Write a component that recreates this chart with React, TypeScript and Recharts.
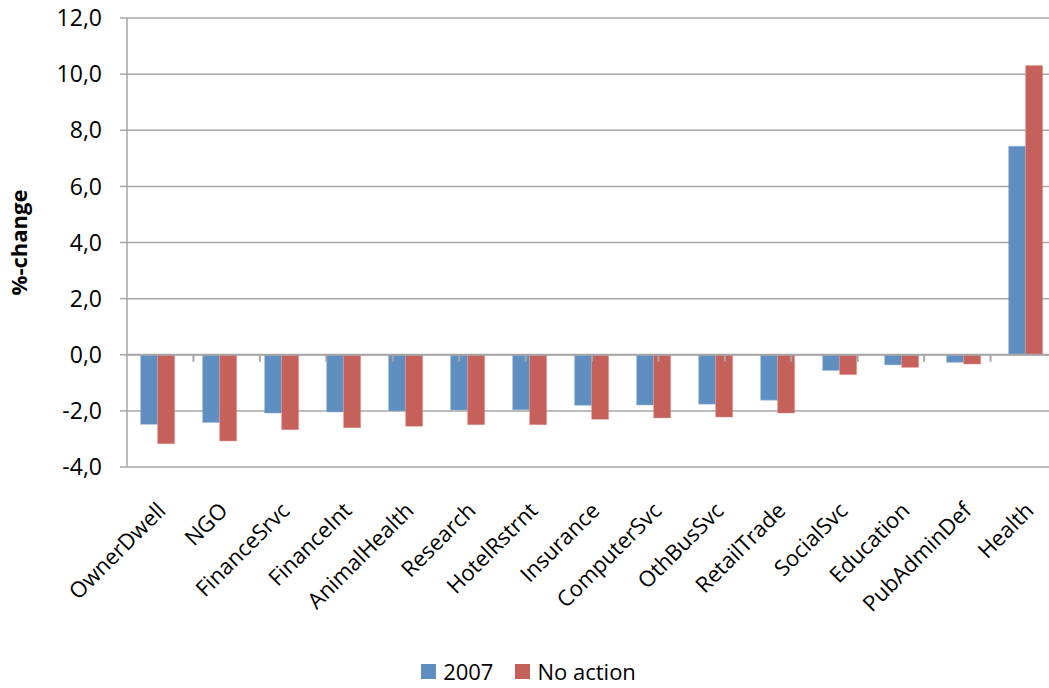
import { BarChart, Bar, XAxis, YAxis, CartesianGrid, Legend, ReferenceLine } from "recharts";

const sectors = [
  "OwnerDwell", "NGO", "FinanceSrvc", "FinanceInt", "AnimalHealth", "Research", "HotelRstrnt",
  "Insurance", "ComputerSvc", "OthBusSvc", "RetailTrade", "SocialSvc", "Education", "PubAdminDef", "Health",
];
const base2007 = [-2.48, -2.41, -2.08, -2.04, -2.0, -1.97, -1.96, -1.8, -1.79, -1.76, -1.62, -0.56, -0.36, -0.27, 7.43];
const noAction = [-3.17, -3.07, -2.67, -2.6, -2.55, -2.49, -2.49, -2.3, -2.25, -2.22, -2.08, -0.71, -0.45, -0.33, 10.31];
const yTicks = [-4, -2, 0, 2, 4, 6, 8, 10, 12];
// category boundaries along the zero line where Excel draws its small tick marks
const boundaries = sectors.map((_, i) => i + 1);

const data = sectors.map((s, i) => ({ sector: s, y2007: base2007[i], noAction: noAction[i] }));

const FONT = "'Open Sans', sans-serif";
const GRID = "#a6a6a6";
const BLUE = "#5f8fc0";
const RED = "#c5605a";

const fmt = (v: number) => v.toFixed(1).replace(".", ",");

const SectorTick = ({ x, y, payload }: { x?: number; y?: number; payload?: { value: string } }) => {
  const ax = (x ?? 0) + 9;
  const ay = (y ?? 0) + 45;
  return (
    <text x={ax} y={ay} textAnchor="end" fontSize={22} fill="#000" fontFamily={FONT} transform={`rotate(-45, ${ax}, ${ay})`}>
      {payload?.value}
    </text>
  );
};

const LegendBox = () => (
  <div style={{ display: "flex", justifyContent: "center", gap: 22, fontFamily: FONT, fontSize: 22, lineHeight: "28px", color: "#000", paddingTop: 21 }}>
    <span style={{ display: "flex", alignItems: "center", gap: 7 }}>
      <span style={{ width: 15, height: 15, background: BLUE, display: "inline-block" }} />2007
    </span>
    <span style={{ display: "flex", alignItems: "center", gap: 7 }}>
      <span style={{ width: 15, height: 15, background: RED, display: "inline-block" }} />No action
    </span>
  </div>
);

export default function App() {
  return (
    <div style={{ position: "absolute", left: 0, top: 0, width: 1049, height: 688, overflow: "hidden", background: "#fff" }}>
      <BarChart width={1057} height={688} data={data} margin={{ top: 18, right: 0, left: 0, bottom: 0 }} barCategoryGap="22%" barGap={0}>
        <CartesianGrid vertical={false} stroke={GRID} strokeWidth={1.5} />
        <XAxis dataKey="sector" height={169} interval={0} axisLine={false} tickLine={false} tickSize={0} tickMargin={0} tick={<SectorTick />} />
        <XAxis xAxisId="num" type="number" domain={[0, 15]} hide />
        <YAxis
          width={127}
          domain={[-4, 12]}
          ticks={yTicks}
          tickFormatter={fmt}
          axisLine={{ stroke: GRID, strokeWidth: 1.5 }}
          tickLine={{ stroke: GRID, strokeWidth: 1.5 }}
          tickSize={7}
          tickMargin={18}
          tick={{ fontSize: 23, fill: "#000", fontFamily: FONT }}
          label={{ value: "%-change", angle: -90, position: "insideLeft", dx: 14, fontSize: 22, fontWeight: 700, fill: "#000", fontFamily: FONT, style: { textAnchor: "middle" } }}
        />
        <ReferenceLine y={0} stroke={GRID} strokeWidth={2} />
        {boundaries.map((b) => (
          <ReferenceLine
            key={b}
            xAxisId="num"
            segment={[{ x: b, y: 0 }, { x: b, y: -0.25 }]}
            stroke={GRID}
            strokeWidth={2}
          />
        ))}
        <Legend verticalAlign="bottom" height={52} content={<LegendBox />} />
        <Bar dataKey="y2007" name="2007" fill={BLUE} stroke="#8fb0d6" strokeWidth={0.5} isAnimationActive={false} />
        <Bar dataKey="noAction" name="No action" fill={RED} stroke="#dc9894" strokeWidth={0.5} isAnimationActive={false} />
      </BarChart>
    </div>
  );
}
